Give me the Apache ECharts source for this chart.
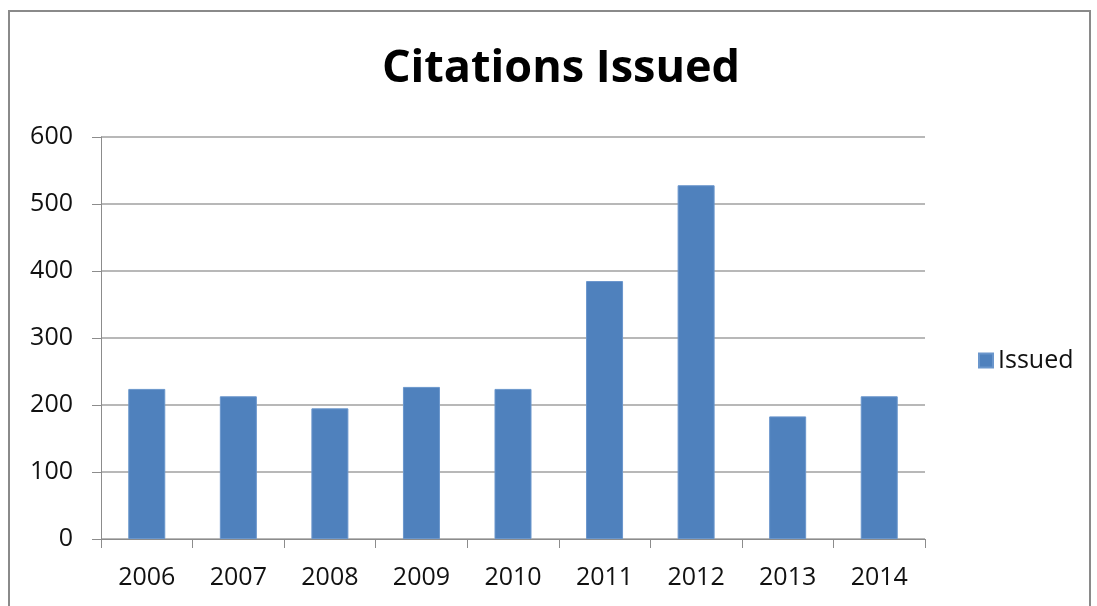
<!DOCTYPE html>
<html>
<head>
<meta charset="utf-8">
<script src="https://cdn.jsdelivr.net/npm/echarts@6/dist/echarts.min.js"></script>
<style>
  html, body { margin: 0; padding: 0; background: #fff; }
  #chart { width: 1097px; height: 606px; }
</style>
</head>
<body>
<div id="chart"></div>
<script>
const years = ['2006', '2007', '2008', '2009', '2010', '2011', '2012', '2013', '2014'];
const issued = [224, 213, 195, 227, 224, 385, 528, 183, 213];
const yTicks = { min: 0, max: 600, step: 100 };

const font = '"Open Sans", Lato, sans-serif';
const chart = echarts.init(document.getElementById('chart'), null, { renderer: 'canvas' });

chart.setOption({
  backgroundColor: '#fff',
  animation: false,
  title: {
    text: 'Citations Issued',
    left: 556,
    top: 42,
    textAlign: 'center',
    textStyle: { fontFamily: font, fontWeight: 'bold', fontSize: 45, color: '#000' }
  },
  graphic: [{
    type: 'rect',
    shape: { x: 9, y: 11, width: 1081, height: 620 },
    style: { fill: 'none', stroke: '#8a8a8a', lineWidth: 2 },
    silent: true
  }],
  legend: {
    data: ['Issued'],
    left: 973,
    top: 343,
    icon: 'rect',
    itemWidth: 14,
    itemHeight: 14,
    itemGap: 8,
    textStyle: { fontFamily: font, fontSize: 25, color: '#111' }
  },
  grid: { left: 101, right: 172, top: 137, bottom: 67 },
  xAxis: {
    type: 'category',
    data: years,
    axisLine: { lineStyle: { color: '#8c8c8c', width: 1 } },
    axisTick: { show: true, length: 9, lineStyle: { color: '#8c8c8c' } },
    axisLabel: { margin: 26, fontFamily: font, fontSize: 25, color: '#111' }
  },
  yAxis: {
    type: 'value',
    min: yTicks.min,
    max: yTicks.max,
    interval: yTicks.step,
    axisLine: { show: true, lineStyle: { color: '#8c8c8c', width: 1 } },
    axisTick: { show: true, length: 9, lineStyle: { color: '#8c8c8c' } },
    axisLabel: { margin: 28, fontFamily: font, fontSize: 25, color: '#111' },
    splitLine: { lineStyle: { color: '#a0a0a0', width: 1.5 } }
  },
  series: [{
    name: 'Issued',
    type: 'bar',
    data: issued,
    barWidth: 37,
    itemStyle: { color: '#4f81bd', borderColor: '#6a96cc', borderWidth: 1 }
  }]
});
</script>
</body>
</html>
